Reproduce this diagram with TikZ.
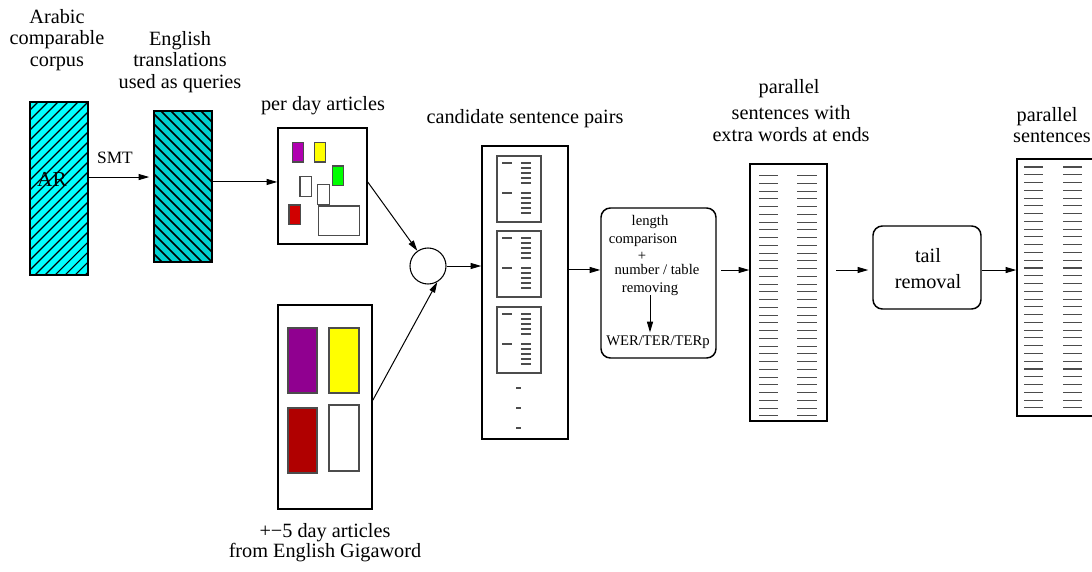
\documentclass[tikz,border=0pt]{standalone}
\usepackage{fontspec}
\setmainfont{Liberation Serif}
\usetikzlibrary{arrows.meta,fit,calc}
\definecolor{arcyan}{RGB}{0,255,255}
\definecolor{encyan}{RGB}{0,206,206}
\definecolor{figpurple}{RGB}{176,0,176}
\definecolor{figpurpledk}{RGB}{144,0,144}
\definecolor{figred}{RGB}{208,0,0}
\definecolor{figreddk}{RGB}{176,0,0}
\definecolor{figgreen}{RGB}{0,255,0}
\definecolor{figyellow}{RGB}{255,255,0}
\begin{document}
\begin{tikzpicture}[x=0.75pt,y=-0.75pt,
  frame/.style={draw, line width=1.1pt, inner sep=0pt},
  rframe/.style={frame, rounded corners=7pt},
  doc/.style={draw=black!70, line width=0.8pt},
  flow/.style={-{Triangle[length=8pt,width=4.5pt]}, line width=0.75pt},
  lbl/.style={font=\rmfamily\fontsize{15.2}{16}\selectfont, anchor=base, inner sep=0pt},
  smalllbl/.style={font=\rmfamily\fontsize{11}{12}\selectfont, anchor=base, inner sep=0pt},
  rule/.style={line width=0.8pt, draw=black!70},
]
\useasboundingbox (0,0) rectangle (1092,571);
\clip (0,0) rectangle (1092,571);

% ---- Arabic corpus (hatched /) ----
\node[frame, fill=arcyan, fit={(30,102)(88,275)}] (ar) {};
\begin{scope}
  \clip (30,102) rectangle (88,275);
  \foreach \c in {130,140,...,370} \draw[line width=0.8pt] (\c-280,280) -- (\c-100,100);
\end{scope}
\draw[line width=1.1pt] (ar.north west) rectangle (ar.south east);
\node[font=\rmfamily\fontsize{16}{17}\selectfont, anchor=base, inner sep=0pt] (arlbl) at (52,186) {AR};

% ---- English translations (hatched \) ----
\node[frame, fill=encyan, fit={(154,111)(212,262)}] (en) {};
\begin{scope}
  \clip (154,111) rectangle (212,262);
  \foreach \c in {-120,-110,...,110} \draw[line width=1.1pt] (\c+100,100) -- (\c+270,270);
\end{scope}
\draw[line width=1.1pt] (en.north west) rectangle (en.south east);

% ---- titles at top left ----
\node[lbl] (t1a) at (57,23) {Arabic};
\node[lbl] (t1b) at (57,44) {comparable};
\node[lbl] (t1c) at (57,66) {corpus};
\node[lbl] (t2a) at (180,45) {English};
\node[lbl] (t2b) at (180,66) {translations};
\node[lbl] (t2c) at (180,88) {used as queries};
\node[font=\rmfamily\fontsize{13}{14}\selectfont, anchor=base, inner sep=0pt] (smt) at (115,163) {SMT};

% ---- per day articles ----
\node[lbl] (t3) at (323,110) {per day articles};
\node[frame, fit={(278,128)(367,244)}] (perday) {};
\filldraw[doc, fill=figpurple] (292.7,142.7) rectangle (303.3,162);
\filldraw[doc, fill=figyellow] (314.3,142.7) rectangle (325.7,162);
\filldraw[doc, fill=figgreen] (332.3,166) rectangle (343.7,185.7);
\filldraw[doc, fill=white] (300,176.7) rectangle (311.7,196.3);
\filldraw[doc, fill=white] (317.7,184.3) rectangle (329.3,204.3);
\filldraw[doc, fill=figred] (289,205) rectangle (300.7,224.3);
\filldraw[doc, fill=white] (318.3,206) rectangle (359.3,235.3);

% ---- +-5 day articles ----
\node[frame, fit={(278,305)(372,509)}] (giga) {};
\filldraw[doc, fill=figpurpledk] (288,328) rectangle (317,393);
\filldraw[doc, fill=figyellow] (329,328) rectangle (359,393);
\filldraw[doc, fill=figreddk] (288,408) rectangle (317,473);
\filldraw[doc, fill=white] (329,405) rectangle (359,471);
\node[lbl] (t4a) at (325,537) {+−5 day articles};
\node[lbl] (t4b) at (325,557) {from English Gigaword};

% ---- merge circle ----
\node[circle, draw, line width=0.8pt, minimum size=27pt, inner sep=0pt] (circ) at (428,266) {};

% ---- candidate sentence pairs ----
\node[lbl] (t5) at (525,123) {candidate sentence pairs};
\node[frame, fit={(482,146)(568,439)}] (cand) {};
\foreach \t in {156,231,307} {
  \draw[doc] (497,\t) rectangle (541,\t+66);
  \foreach \d in {7,37} \draw[rule] (502,\t+\d) -- (512,\t+\d);
  \foreach \d in {7,12,17,22,27,37,42,47,52,57} \draw[rule] (521,\t+\d) -- (531,\t+\d);
}
\foreach \y in {388,408,428} \draw[rule] (516,\y) -- (521,\y);

% ---- filtering box ----
\node[rframe, fit={(601,208)(716,358)}] (len) {};
\node[smalllbl] (l1) at (650,225) {length};
\node[smalllbl] (l2) at (643,243) {comparison};
\node[smalllbl] (l3) at (642,260) {+};
\node[smalllbl] (l4) at (657,274) {number / table};
\node[smalllbl] (rem) at (650,292) {removing};
\node[smalllbl] (wer) at (658,345) {WER/TER/TERp};

% ---- parallel sentences with extra words ----
\node[lbl] (t6a) at (789,93) {parallel};
\node[lbl] (t6b) at (791,119) {sentences with};
\node[lbl] (t6c) at (791,141) {extra words at ends};
\node[frame, fit={(750,164)(827,421)}] (par1) {};
\foreach \i in {0,...,31} {
  \pgfmathsetmacro\yy{175.7+\i*7.75}
  \draw[rule] (759,\yy) -- (778,\yy);
  \draw[rule] (797,\yy) -- (817,\yy);
}

% ---- tail removal ----
\node[rframe, fit={(873,226)(981,309)}] (tail) {};
\node[lbl] (tr1) at (928,262) {tail};
\node[lbl] (tr2) at (928,288) {removal};
\coordinate (tin) at (836,270);

% ---- parallel sentences ----
\node[lbl] (t7a) at (1047,121) {parallel};
\node[lbl] (t7b) at (1052,142) {sentences};
\node[frame, fit={(1017,159)(1104,416)}] (par2) {};
\foreach \i in {0,...,31} {
  \pgfmathsetmacro\yy{167+\i*7.77}
  \draw[rule] (1024,\yy) -- (1043,\yy);
  \draw[rule] (1063,\yy) -- (1082,\yy);
}

% ---- connectors ----
\draw[flow, shorten >=3pt] ([yshift=8.6pt]ar.east) -- ([yshift=8.6pt]ar.east -| en.west);
\draw[flow] ([yshift=3.4pt]en.east) -- ([yshift=3.4pt]en.east -| perday.west);
\draw[flow] ([yshift=3pt]perday.east) -- (circ.125);
\draw[flow] ([yshift=5pt]giga.east) -- (circ.-60);
\draw[flow] (circ.east) -- (circ.east -| cand.west);
\draw[flow] ([yshift=16.9pt]cand.east) -- ([yshift=16.9pt]cand.east -| len.west);
\draw[flow] (rem.south) -- ([yshift=2pt]rem.south |- wer.north);
\draw[flow, shorten <=3.5pt] ([yshift=9.75pt]len.east) -- ([yshift=9.75pt]len.east -| par1.west);
\draw[flow, shorten >=3pt] (tin) -- (tin -| tail.west);
\draw[flow] ([yshift=-1.9pt]tail.east) -- ([yshift=-1.9pt]tail.east -| par2.west);
\end{tikzpicture}
\end{document}
